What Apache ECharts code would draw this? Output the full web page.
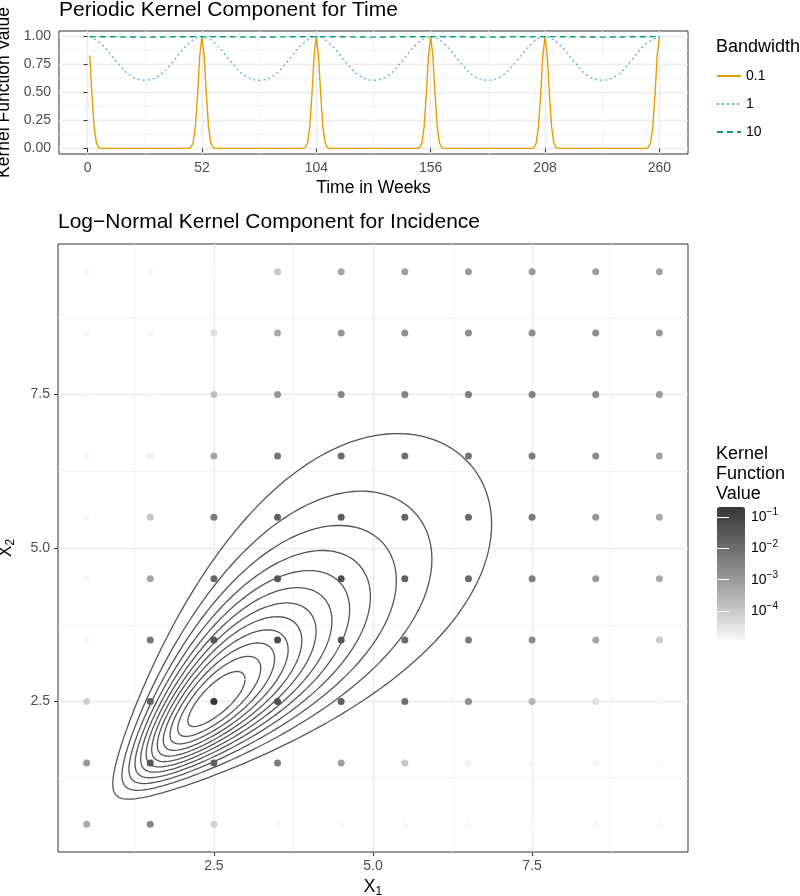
<!DOCTYPE html>
<html>
<head>
<meta charset="utf-8">
<script src="https://cdn.jsdelivr.net/npm/echarts@6/dist/echarts.min.js"></script>
<style>
  html, body { margin: 0; padding: 0; background: #fff; }
  #chart { width: 800px; height: 896px; }
</style>
</head>
<body>
<div id="chart"></div>
<script>
// ---- top panel: periodic kernel ----
const weekTicks = [0, 52, 104, 156, 208, 260];
const weekMinor = [26, 78, 130, 182, 234];
const kernelTicks = [0, 0.25, 0.5, 0.75, 1];
const kernelMinor = [0.125, 0.375, 0.625, 0.875];

const bw01Weeks = [1, 2, 3, 4, 5, 6,
  46, 47, 48, 49, 50, 51, 52, 53, 54, 55, 56, 57, 58,
  98, 99, 100, 101, 102, 103, 104, 105, 106, 107, 108, 109, 110,
  150, 151, 152, 153, 154, 155, 156, 157, 158, 159, 160, 161, 162,
  202, 203, 204, 205, 206, 207, 208, 209, 210, 211, 212, 213, 214,
  254, 255, 256, 257, 258, 259, 260];
const bw01Values = [0.83, 0.48, 0.19, 0.05, 0.01, 0,
  0, 0.01, 0.05, 0.19, 0.48, 0.83, 1, 0.83, 0.48, 0.19, 0.05, 0.01, 0,
  0, 0.01, 0.05, 0.19, 0.48, 0.83, 1, 0.83, 0.48, 0.19, 0.05, 0.01, 0,
  0, 0.01, 0.05, 0.19, 0.48, 0.83, 1, 0.83, 0.48, 0.19, 0.05, 0.01, 0,
  0, 0.01, 0.05, 0.19, 0.48, 0.83, 1, 0.83, 0.48, 0.19, 0.05, 0.01, 0,
  0, 0.01, 0.05, 0.19, 0.48, 0.83, 1];

const bw1Weeks = [1, 6.5, 13, 19.5, 26, 32.5, 39, 45.5, 52, 58.5, 65, 71.5, 78, 84.5,
  91, 97.5, 104, 110.5, 117, 123.5, 130, 136.5, 143, 149.5, 156, 162.5, 169, 175.5,
  182, 188.5, 195, 201.5, 208, 214.5, 221, 227.5, 234, 240.5, 247, 253.5, 260];
const bw1Values = [1.00, 0.93, 0.78, 0.65, 0.61, 0.65, 0.78, 0.93, 1.00, 0.93, 0.78, 0.65, 0.61, 0.65,
  0.78, 0.93, 1.00, 0.93, 0.78, 0.65, 0.61, 0.65, 0.78, 0.93, 1.00, 0.93, 0.78, 0.65,
  0.61, 0.65, 0.78, 0.93, 1.00, 0.93, 0.78, 0.65, 0.61, 0.65, 0.78, 0.93, 1.00];

const bw10Weeks = [1, 13, 26, 39, 52, 65, 78, 91, 104, 117, 130, 143, 156, 169, 182, 195, 208, 221, 234, 247, 260];
const bw10Values = [1.0, 0.998, 0.995, 0.998, 1.0, 0.998, 0.995, 0.998, 1.0, 0.998, 0.995,
  0.998, 1.0, 0.998, 0.995, 0.998, 1.0, 0.998, 0.995, 0.998, 1.0];

// ---- bottom panel: log-normal kernel ----
const x1Ticks = [2.5, 5, 7.5];
const x1Minor = [1.25, 3.75, 6.25, 8.75];
const cellX = [0.5, 1.5, 2.5, 3.5, 4.5, 5.5, 6.5, 7.5, 8.5, 9.5];
const cellY = [9.5, 8.5, 7.5, 6.5, 5.5, 4.5, 3.5, 2.5, 1.5, 0.5];
// log10 of kernel value, rows from X2 = 9.5 down to 0.5
const kernelLog10 = [
  [-4.92, -4.92, -4.92, -3.96, -3.30, -3.13, -3.00, -3.00, -3.08, -3.19],
  [-4.92, -4.92, -4.45, -3.34, -2.89, -2.76, -2.70, -2.70, -2.76, -2.98],
  [-4.92, -4.92, -3.80, -2.89, -2.54, -2.44, -2.37, -2.44, -2.61, -2.98],
  [-4.92, -4.74, -3.24, -2.19, -1.94, -2.03, -2.12, -2.30, -2.70, -3.13],
  [-4.92, -3.96, -2.30, -1.75, -1.57, -1.71, -1.94, -2.30, -2.89, -3.30],
  [-4.92, -3.25, -1.82, -1.45, -1.31, -1.71, -1.94, -2.37, -2.98, -3.34],
  [-4.92, -2.19, -1.45, -1.18, -1.45, -1.94, -2.30, -2.70, -3.30, -4.05],
  [-4.12, -1.66, -0.685, -1.31, -1.66, -2.07, -2.76, -3.56, -4.45, -4.92],
  [-2.98, -1.45, -1.71, -2.30, -3.13, -3.96, -4.74, -4.92, -4.92, -4.92],
  [-3.34, -2.61, -4.12, -4.92, -4.92, -4.92, -4.92, -4.92, -4.92, -4.92]
];
const colorbarTicks = [-4, -3, -2, -1];
const kernelLogMin = -4.92;
const kernelLogMax = -0.685;

// contour lines: ellipses in log space around the mode
const contourMode = [2.5, 2.5];
const contourRho = 0.76;
const contourHalfWidths = [1.01, 0.863, 0.764, 0.685, 0.617, 0.555, 0.496, 0.44, 0.383, 0.323, 0.258, 0.179];

const FONT = 'Liberation Sans, Arial, Helvetica, sans-serif';
const chart = echarts.init(document.getElementById('chart'));

function zip(xs, ys) {
  return xs.map((x, i) => [x, ys[i]]);
}

function contourPath(a) {
  const c1 = Math.log(contourMode[0]), c2 = Math.log(contourMode[1]);
  const k = Math.sqrt(1 - contourRho * contourRho);
  const pts = [];
  for (let i = 0; i <= 200; i++) {
    const t = i / 200 * 2 * Math.PI;
    const du = a * Math.cos(t);
    const dv = a * (contourRho * Math.cos(t) + k * Math.sin(t));
    pts.push([Math.exp(c1 + du), Math.exp(c2 + dv)]);
  }
  return pts;
}

const scatterData = [];
cellY.forEach((y, r) => {
  cellX.forEach((x, c) => {
    scatterData.push([x, y, kernelLog10[r][c]]);
  });
});

function majorAxis(gridIndex, min, max, ticks, fmt) {
  return {
    type: 'value', gridIndex, min, max,
    axisLine: { show: false },
    axisTick: { show: true, length: 4, customValues: ticks, lineStyle: { color: '#333333' } },
    axisLabel: { customValues: ticks, formatter: fmt, fontSize: 14, color: '#4d4d4d', fontFamily: FONT },
    splitLine: { show: true, lineStyle: { color: '#ebebeb', width: 1.3 } },
    nameLocation: 'middle',
    nameTextStyle: { fontSize: 17.5, color: '#000', fontFamily: FONT }
  };
}
function minorAxis(gridIndex, min, max, ticks) {
  return {
    type: 'value', gridIndex, min, max,
    axisLine: { show: false },
    axisTick: { show: false, customValues: ticks },
    axisLabel: { show: false, customValues: ticks },
    splitLine: { show: true, lineStyle: { color: '#f3f3f3', width: 0.8 } }
  };
}

const subRich = {
  sub: { fontSize: 12, fontFamily: FONT, color: '#000', padding: [9, 0, 0, 0] }
};

const xTop = majorAxis(0, -13, 273, weekTicks, v => String(v));
xTop.name = 'Time in Weeks';
xTop.nameGap = 25;
xTop.axisLabel.margin = 7;
const yTop = majorAxis(0, -0.05, 1.05, kernelTicks, v => v.toFixed(2));
yTop.name = 'Kernel Function Value';
yTop.nameGap = 41;
yTop.axisLabel.margin = 8;

const xBot = majorAxis(1, 0.05, 9.95, x1Ticks, v => v.toFixed(1));
xBot.name = 'X{sub|1}';
xBot.nameGap = 24;
xBot.nameTextStyle.rich = subRich;
xBot.axisLabel.margin = 7;
const yBot = majorAxis(1, 0.05, 9.95, x1Ticks, v => v.toFixed(1));
yBot.name = 'X{sub|2}';
yBot.nameGap = 41;
yBot.nameTextStyle.rich = subRich;
yBot.axisLabel.margin = 8;

// colorbar ticks: white marks on both edges of the bar
function colorbarAxis(position, offset, showLabel) {
  return {
    type: 'value', gridIndex: 2, position, offset, min: kernelLogMin, max: kernelLogMax, z: 10,
    axisLine: { show: false },
    splitLine: { show: false },
    axisTick: { show: true, inside: false, length: 6, customValues: colorbarTicks,
      lineStyle: { color: '#ffffff', width: 1 } },
    axisLabel: { show: showLabel, customValues: colorbarTicks, margin: 12,
      fontSize: 14, color: '#000', fontFamily: FONT,
      formatter: v => '10{sup|−' + Math.abs(v) + '}',
      rich: { sup: { fontSize: 10, color: '#000', fontFamily: FONT, padding: [0, 0, 9, 0] } } }
  };
}

const lineCommon = { type: 'line', xAxisIndex: 0, yAxisIndex: 0, symbol: 'none', silent: true, animation: false };

const series = [
  Object.assign({}, lineCommon, { name: '0.1', data: zip(bw01Weeks, bw01Values),
    lineStyle: { color: '#E69F00', width: 1.4 }, itemStyle: { color: '#E69F00' } }),
  Object.assign({}, lineCommon, { name: '1', data: zip(bw1Weeks, bw1Values), smooth: 0.4,
    lineStyle: { color: '#56B4E9', width: 1.4, type: [2, 3] }, itemStyle: { color: '#56B4E9' } }),
  Object.assign({}, lineCommon, { name: '10', data: zip(bw10Weeks, bw10Values),
    lineStyle: { color: '#009E73', width: 1.4, type: [6, 4] }, itemStyle: { color: '#009E73' } }),
  {
    type: 'scatter', xAxisIndex: 2, yAxisIndex: 2, data: scatterData, symbolSize: 7,
    itemStyle: { opacity: 1 }, silent: true, animation: false, z: 3
  }
];
contourHalfWidths.forEach(a => {
  series.push({
    type: 'line', xAxisIndex: 2, yAxisIndex: 2, data: contourPath(a), symbol: 'none',
    silent: true, animation: false, z: 2,
    lineStyle: { color: '#555555', width: 1.3 }
  });
});

const option = {
  backgroundColor: '#ffffff',
  textStyle: { fontFamily: FONT },
  title: [
    { text: 'Periodic Kernel Component for Time', left: 59, top: -2, padding: 0,
      textStyle: { fontSize: 21, fontWeight: 'normal', color: '#000', lineHeight: 24, fontFamily: FONT } },
    { text: 'Log−Normal Kernel Component for Incidence', left: 58, top: 210, padding: 0,
      textStyle: { fontSize: 21, fontWeight: 'normal', color: '#000', lineHeight: 24, fontFamily: FONT } },
    { text: 'Bandwidth', left: 716, top: 37, padding: 0,
      textStyle: { fontSize: 18, fontWeight: 'normal', color: '#000', lineHeight: 20, fontFamily: FONT } },
    { text: 'Kernel\nFunction\nValue', left: 716, top: 444, padding: 0,
      textStyle: { fontSize: 18, fontWeight: 'normal', color: '#000', lineHeight: 20, fontFamily: FONT } }
  ],
  legend: {
    data: ['0.1', '1', '10'], orient: 'vertical', left: 716, top: 69, padding: 0,
    itemWidth: 24, itemHeight: 14, itemGap: 14, selectedMode: false,
    itemStyle: { opacity: 0 },
    textStyle: { fontSize: 14, color: '#000', fontFamily: FONT }
  },
  grid: [
    { left: 59, top: 31, width: 629, height: 123, show: true, borderColor: '#333333', borderWidth: 1,
      backgroundColor: 'transparent', containLabel: false, outerBoundsMode: 'none' },
    { left: 58, top: 244, width: 630, height: 608, show: true, borderColor: '#333333', borderWidth: 1,
      backgroundColor: 'transparent', containLabel: false, outerBoundsMode: 'none' },
    { left: 717, top: 507, width: 28, height: 133, show: false, containLabel: false, outerBoundsMode: 'none' }
  ],
  xAxis: [
    xTop, minorAxis(0, -13, 273, weekMinor),
    xBot, minorAxis(1, 0.05, 9.95, x1Minor),
    { type: 'value', gridIndex: 2, min: 0, max: 1, show: false }
  ],
  yAxis: [
    yTop, minorAxis(0, -0.05, 1.05, kernelMinor),
    yBot, minorAxis(1, 0.05, 9.95, x1Minor),
    colorbarAxis('right', -6, true), colorbarAxis('left', -6, false)
  ],
  visualMap: {
    type: 'continuous', seriesIndex: 3, dimension: 2,
    min: kernelLogMin, max: kernelLogMax,
    inRange: { color: ['#f8f8f8', '#c3c3c3', '#919191', '#626262', '#363636'] },
    left: 717, top: 507, itemWidth: 28, itemHeight: 133, padding: 0,
    calculable: false, realtime: false, hoverLink: false
  },
  series
};
chart.setOption(option);
</script>
</body>
</html>
